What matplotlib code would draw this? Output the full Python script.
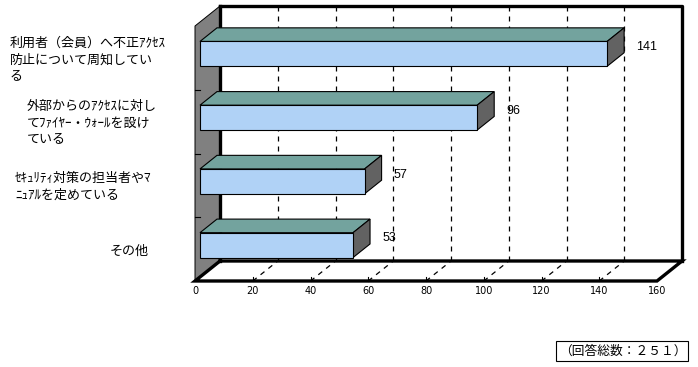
import numpy as np
import matplotlib
matplotlib.use('Agg')
import matplotlib.pyplot as plt
from matplotlib.patches import Polygon, Rectangle

plt.rcParams['font.family'] = ['Noto Sans CJK JP', 'DejaVu Sans']

# data (top to bottom as shown in the chart)
categories = [
    ['利用者（会員）へ不正ｱｸｾｽ', '防止について周知してい', 'る'],
    ['外部からのｱｸｾｽに対し', 'てﾌｧｲﾔｰ・ｳｫｰﾙを設け', 'ている'],
    ['ｾｷｭﾘﾃｨ対策の担当者やﾏ', 'ﾆｭｱﾙを定めている'],
    ['その他'],
]
values = [141, 96, 57, 53]
xticks = [0, 20, 40, 60, 80, 100, 120, 140, 160]
note = '（回答総数：２５１）'

W, H = 698, 367
fig = plt.figure(figsize=(W / 100, H / 100), dpi=100)
ax = fig.add_axes([0, 0, 1, 1])
ax.axis('off')

# front plane: value 0 at px 195, 160 at px 657 ; floor at px 281, top at px 26
x0, sx = 195, (657 - 195) / 160
y0, sy = 281, (281 - 26) / 4
ax.set_xlim(-x0 / sx, (W - x0) / sx)
ax.set_ylim((y0 - H) / sy, y0 / sy)

# depth vector (data units)
dx, dy = 25 / sx, 20 / sy
n = len(values)
vmax = 160

def poly(pts, **kw):
    ax.add_patch(Polygon(pts, closed=True, **kw))

# left wall
poly([(0, 0), (0, n), (dx, n + dy), (dx, dy)], facecolor='#808080',
     edgecolor='black', lw=0.7, zorder=1)
# floor
poly([(0, 0), (vmax, 0), (vmax + dx, dy), (dx, dy)], facecolor='white',
     edgecolor='none', zorder=1)

# gridlines on back wall and floor
for t in xticks[1:-1]:
    ax.plot([t + dx, t + dx], [dy, n + dy], color='black', lw=0.9,
            ls=(0, (4, 4)), zorder=2)
    ax.plot([t, t + dx], [0, dy], color='black', lw=0.9,
            ls=(0, (4, 4)), zorder=2)
    ax.plot([t, t], [0, 0.06], color='black', lw=0.8, zorder=2)

# thick frame lines
lw = 2.4
ax.plot([dx, vmax + dx, vmax + dx], [n + dy, n + dy, dy], color='black', lw=lw, zorder=3,
        solid_capstyle='projecting')
ax.plot([dx, dx], [dy, n + dy], color='black', lw=lw, zorder=3)
ax.plot([dx, vmax + dx, vmax, 0, dx], [dy, dy, 0, 0, dy], color='black', lw=lw, zorder=3,
        solid_joinstyle='miter')

# category ticks on the wall
for k in range(1, n):
    ax.plot([0, 5 / sx], [k, k], color='black', lw=0.8, zorder=2)

# bars
f0, f1 = 0.2, 0.88
bh = 0.39
for i, v in enumerate(values):
    yc = n - 1 - i + 0.5
    ya, yb = yc - bh / 2, yc + bh / 2
    ax0, ay0 = f0 * dx, f0 * dy
    ax1, ay1 = f1 * dx, f1 * dy
    front = [(ax0, ya + ay0), (v + ax0, ya + ay0), (v + ax0, yb + ay0), (ax0, yb + ay0)]
    top = [(ax0, yb + ay0), (v + ax0, yb + ay0), (v + ax1, yb + ay1), (ax1, yb + ay1)]
    side = [(v + ax0, ya + ay0), (v + ax1, ya + ay1), (v + ax1, yb + ay1), (v + ax0, yb + ay0)]
    poly(top, facecolor='#73a39e', edgecolor='black', lw=0.8, zorder=5)
    poly(side, facecolor='#626262', edgecolor='black', lw=0.8, zorder=5)
    poly(front, facecolor='#b0d2f6', edgecolor='black', lw=0.8, zorder=5)
    ax.text(v + ax1 + 12 / sx, yc + (ay0 + ay1) / 2, str(v), ha='left', va='center',
            fontsize=9, family='Liberation Sans', zorder=6)

# x tick labels
for t in xticks:
    ax.text(t, -10 / sy, str(t), ha='center', va='center', fontsize=7,
            family='DejaVu Sans')

# category labels
def ftext(x, y, s, **kw):
    fig.text(x / W, 1 - y / H, s, **kw)

label_x = [10, 27, 15, 110]
label_y = [43, 106, 178, 251]
for lines, lx, ly in zip(categories, label_x, label_y):
    for j, s in enumerate(lines):
        ftext(lx, ly + j * 17, s, ha='left', va='center', fontsize=9.4)

# note box
fig.patches.append(Rectangle((556 / W, 1 - 361 / H), 132 / W, 20 / H,
                             transform=fig.transFigure, facecolor='white',
                             edgecolor='black', lw=0.8))
ftext(623, 351, note, ha='center', va='center', fontsize=9.2)

fig.savefig('out.png', dpi=100)
